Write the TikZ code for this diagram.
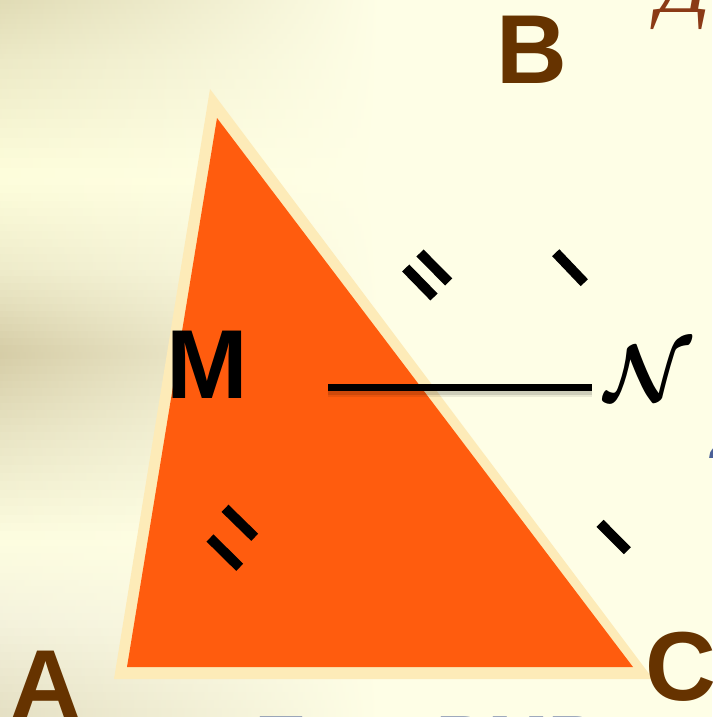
\RequirePackage{fix-cm}
\documentclass[tikz,border=0pt]{standalone}
\usepackage{fontspec}
\setmainfont{Liberation Sans}
\newfontfamily\serifit{Liberation Serif}
\definecolor{bgmain}{HTML}{FEFEE6}
\definecolor{triorange}{HTML}{FF5C0E}
\definecolor{tricream}{HTML}{FDEBB8}
\definecolor{lblbrown}{HTML}{663300}
\definecolor{dbrown}{HTML}{8B3A16}
\definecolor{txtblue}{HTML}{4A6098}
\definecolor{b0}{HTML}{E0DBB5}
\definecolor{b1}{HTML}{ECE9C6}
\definecolor{b2}{HTML}{FEFEDC}
\definecolor{b3}{HTML}{EEEBCA}
\definecolor{b4}{HTML}{D5CCA6}
\definecolor{b5}{HTML}{E9E5C5}
\definecolor{b6}{HTML}{FDFDE0}
\definecolor{b7}{HTML}{F4F2DC}
\definecolor{b8}{HTML}{E4DFC3}
\tikzset{
  biglbl/.style={inner sep=0pt, anchor=base west, font=\bfseries\fontsize{98}{98}\selectfont},
  tick/.style={line width=10pt, line cap=butt, black},
  bluetxt/.style={inner sep=0pt, anchor=base west, text=txtblue, font=\bfseries\fontsize{72}{72}\selectfont},
}
\begin{document}
\begin{tikzpicture}[x=1pt,y=-1pt]
\useasboundingbox (0,0) rectangle (712,717);
\begin{scope}
\clip (0,0) rectangle (712,717);
\fill[bgmain] (0,0) rectangle (712,717);
% background bands: thin horizontal strips shaded from the band colour (left) to the plain background (right)
\foreach \ya/\yb/\ca/\cb in {0/60/b0/b1, 60/178/b1/b2, 178/270/b2/b3, 270/352/b3/b4, 352/440/b4/b5, 440/540/b5/b6, 540/620/b6/b7, 620/717/b7/b8}{
  \foreach \i in {0,...,11}{
    \pgfmathsetmacro\ys{\ya+(\yb-\ya)*\i/12}
    \pgfmathsetmacro\ye{\ya+(\yb-\ya)*(\i+1)/12+1}
    \pgfmathtruncatemacro\pct{(\i+0.5)/12*100}
    \colorlet{stripc}{\cb!\pct!\ca}
    \fill[left color=stripc, right color=bgmain] (0,\ys) rectangle (380,\ye);
  }
}
% triangle
\fill[tricream] (210,89) -- (114,679) -- (653,679) -- cycle;
\fill[triorange] (217,118) -- (127,667) -- (633,667) -- cycle;
% tick marks
\draw[tick] (405.7,268) -- (434,297);
\draw[tick] (420,253) -- (448.7,282);
\draw[tick] (555.7,252.7) -- (584.3,282.7);
\draw[tick] (210,538) -- (239.7,567.3);
\draw[tick] (225,508.3) -- (254.7,537.3);
\draw[tick] (600,523.3) -- (627.3,550.7);
% segment MN
\coordinate (m1) at (328,387);
\coordinate (n1) at (592,387);
\draw[line width=12pt, black, opacity=0.08] ([yshift=-4pt]m1) -- ([yshift=-4pt]n1);
\draw[line width=9pt, black, opacity=0.12] ([yshift=-3pt]m1) -- ([yshift=-3pt]n1);
\draw[line width=7pt, black] (m1) -- (n1);
% labels
\node[biglbl, lblbrown] (B) at (496,83) {B};
\node[biglbl, black] (M) at (166,398) {M};
\node[biglbl, lblbrown] (A) at (10,718) {A};
\node[biglbl, lblbrown] (C) at (645,700) {C};
\node[inner sep=0pt, anchor=center, font=\boldmath\fontsize{80}{80}\selectfont] (N) at (648,373) {$\mathcal{N}$};
\node[inner sep=0pt, anchor=base west, text=dbrown, font=\serifit\itshape\fontsize{84}{84}\selectfont] (D) at (657,13) {Д};
\node[bluetxt] (T1) at (259,766) {Т};
\node[bluetxt] (T2) at (436,766) {ВМВ};
\node[inner sep=0pt, anchor=base west, text=txtblue, font=\bfseries\itshape\fontsize{60}{60}\selectfont] (T3) at (710,458) {2};
\end{scope}
\end{tikzpicture}
\end{document}
